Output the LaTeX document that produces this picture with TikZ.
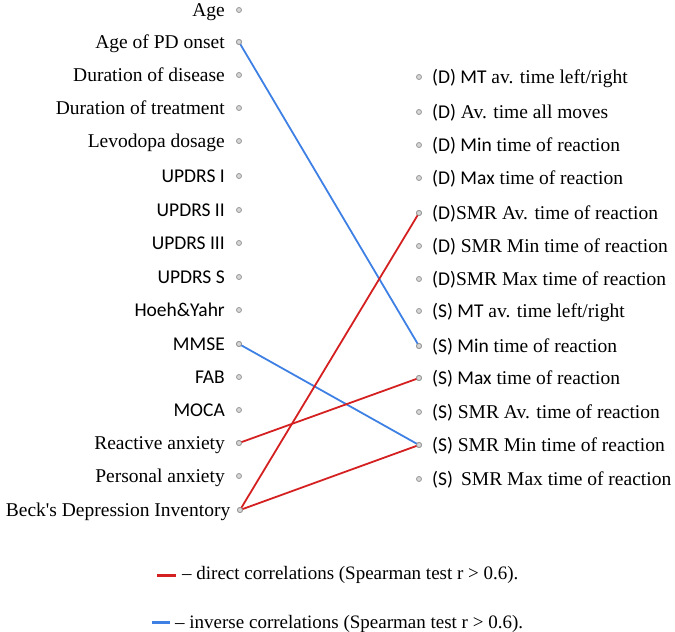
\documentclass[tikz,border=0pt]{standalone}
\usepackage{fontspec}
\setmainfont{Liberation Serif}
\newfontfamily\plainserif{Liberation Serif}
\newfontfamily\calf{Carlito}
\definecolor{dred}{RGB}{212,32,32}
\definecolor{dblue}{RGB}{62,128,228}
\definecolor{dotgray}{RGB}{150,150,150}
\definecolor{dotfill}{RGB}{215,215,215}
\tikzset{
  lab/.style={font=\fontsize{19.5}{22}\selectfont, inner sep=0pt},
  llab/.style={lab, anchor=base east},
  rlab/.style={lab, anchor=base west},
  pt/.style={circle, draw=dotgray, fill=dotfill, line width=0.8pt, minimum size=5pt, inner sep=0pt},
  dirc/.style={draw=dred, line width=1.8pt},
  invc/.style={draw=dblue, line width=1.8pt},
  legtxt/.style={font=\fontsize{19}{22}\selectfont, inner sep=0pt, anchor=base west}
}
\begin{document}
\begin{tikzpicture}[x=1pt,y=-1pt]
\useasboundingbox (0,0) rectangle (675,632);
% left column
\foreach \n/\y/\t in {
  L1/10/{Age},
  L2/42/{Age of PD onset},
  L3/75/{Duration of disease},
  L4/108/{Duration of treatment},
  L5/141/{Levodopa dosage},
  L6/176/{\calf UPDRS I},
  L7/210/{\calf UPDRS II},
  L8/243/{\calf UPDRS III},
  L9/277/{\calf UPDRS S},
  L10/310/{\calf Hoeh\&Yahr},
  L11/344/{\calf MMSE},
  L12/377/{\calf FAB},
  L13/410/{\calf MOCA},
  L14/443/{Reactive anxiety},
  L15/476/{Personal anxiety}}{
  \node[llab] (t\n) at (225,\y+6.5) {\t};
  \node[pt] (\n) at (239,\y) {};
}
\node[llab] (tL16) at (230.5,516.5) {\plainserif Beck's Depression Inventory};
\node[pt] (L16) at (240,510) {};
% right column
\foreach \n/\y/\t in {
  R1/77/{{\calf (D) MT} av. time left/right},
  R2/112/{{\calf (D)} Av. time all moves},
  R3/145/{{\calf (D) Min} time of reaction},
  R4/178/{{\calf (D) Max} time of reaction},
  R5/213/{{\calf (D)}SMR Av. time of reaction},
  R6/246/{{\calf (D)} SMR Min time of reaction},
  R7/279/{{\calf (D)}SMR Max time of reaction},
  R8/311/{{\calf (S) MT} av. time left/right},
  R9/346/{{\calf (S) Min} time of reaction},
  R10/378/{{\calf (S) Max} time of reaction},
  R11/412/{{\calf (S)} SMR Av. time of reaction},
  R12/445/{{\calf (S)} SMR Min time of reaction},
  R13/479/{{\calf (S)}\, SMR Max time of reaction}}{
  \node[rlab] (t\n) at (432,\y+6.5) {\t};
  \node[pt] (\n) at (419,\y) {};
}
% correlations
\draw[invc] (L2.center) -- (R9.center);
\draw[invc] (L11.center) -- (R12.center);
\draw[dirc] (L14.center) -- (R10.center);
\draw[dirc] (L16.center) -- (R5.center);
\draw[dirc] (L16.center) -- (R12.center);
\foreach \n in {L2,L11,L14,L16,R5,R9,R10,R12}{\node[pt] at (\n) {};}
% legend
\coordinate (ra) at (157,575);
\coordinate (rb) at (176,575);
\draw[draw=dred, line width=3pt] (ra) -- (rb);
\node[legtxt] (lt1) at (182,579) {-- direct correlations (Spearman test r > 0.6).};
\coordinate (ba) at (152,622);
\coordinate (bb) at (170,622);
\draw[draw=dblue, line width=3pt] (ba) -- (bb);
\node[legtxt] (lt2) at (175,628.5) {-- inverse correlations (Spearman test r > 0.6).};
\end{tikzpicture}
\end{document}
